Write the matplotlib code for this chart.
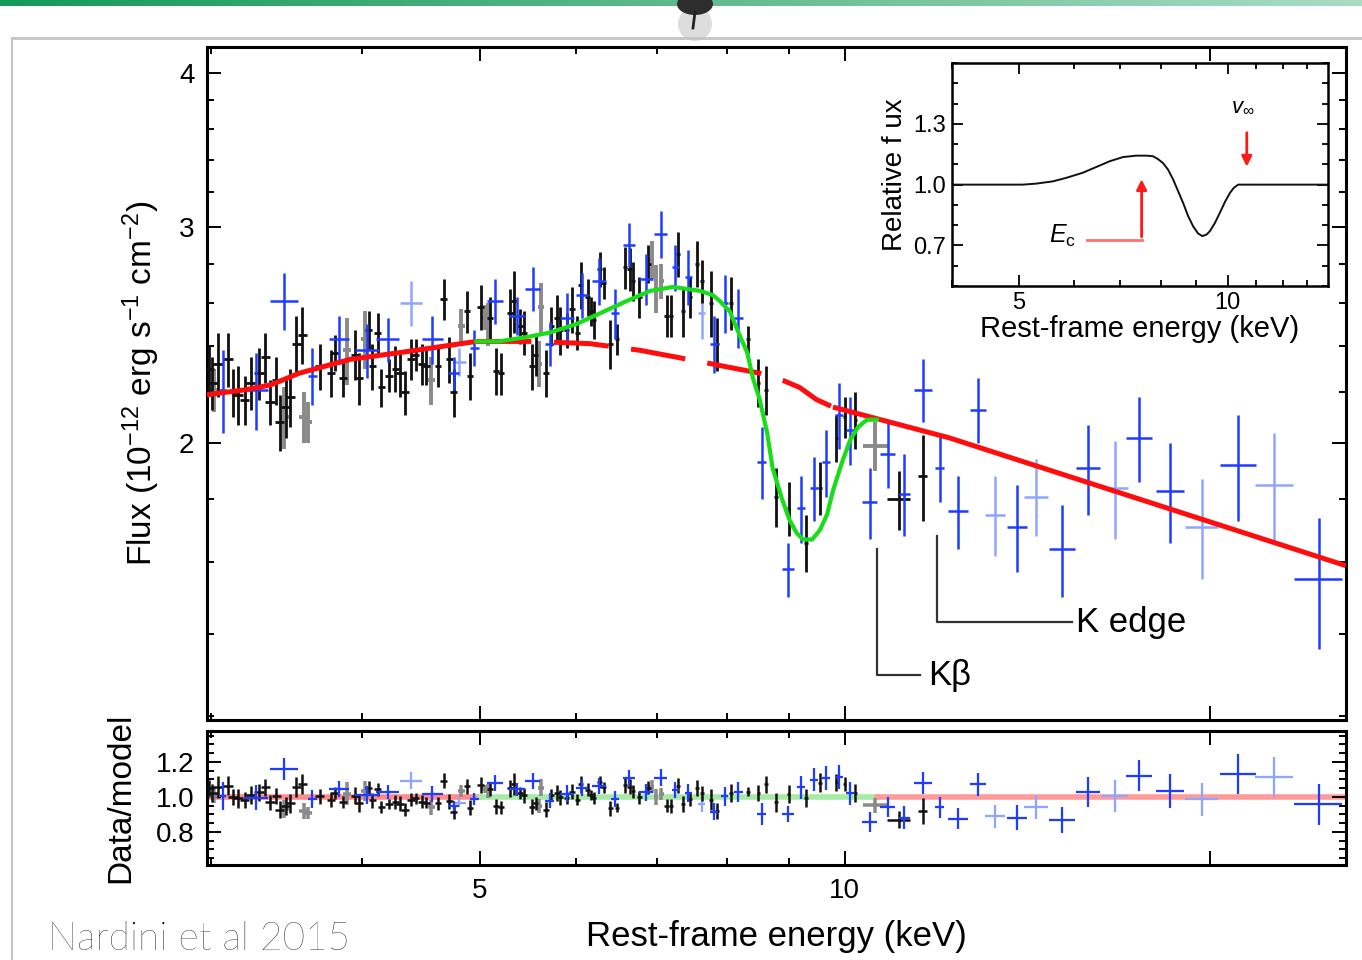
import numpy as np
import matplotlib.pyplot as plt
from matplotlib.colors import LinearSegmentedColormap
from matplotlib.lines import Line2D
from matplotlib.patches import Ellipse

plt.rcParams['font.family'] = ['Liberation Sans', 'DejaVu Sans']
plt.rcParams['mathtext.fontset'] = 'custom'
plt.rcParams['mathtext.rm'] = 'Liberation Sans'
plt.rcParams['mathtext.it'] = 'Liberation Sans:italic'
plt.rcParams['mathtext.bf'] = 'Liberation Sans:bold'

# XMM pn spectrum (keV, 1e-12 erg/s/cm2, 1-sigma)
pn_e = [2.99, 3.01, 3.04, 3.10, 3.13, 3.16, 3.20, 3.24, 3.29, 3.33, 3.36, 3.40, 3.42,
        3.46, 3.49, 3.53, 3.57, 3.69, 3.77, 3.80, 3.86, 3.95, 3.98, 4.05, 4.08, 4.12,
        4.15, 4.21, 4.26, 4.30, 4.34, 4.39, 4.43, 4.48, 4.52, 4.62, 4.67, 4.72, 4.76,
        4.88, 4.91, 5.01, 5.10, 5.16, 5.21, 5.30, 5.34, 5.40, 5.44, 5.52, 5.56, 5.67,
        5.73, 5.79, 5.83, 5.90, 5.96, 6.02, 6.06, 6.14, 6.18, 6.21, 6.28, 6.33, 6.41,
        6.49, 6.59, 6.65, 6.69, 6.77, 6.89, 7.13, 7.19, 7.29, 7.36, 7.46, 7.55, 7.63,
        7.76, 7.84, 8.06, 8.32, 8.49, 8.61, 8.78, 8.99, 9.29, 9.54, 9.84, 10.0, 10.2,
        11.08, 11.6]
pn_f = [2.30, 2.24, 2.32, 2.34, 2.20, 2.19, 2.17, 2.24, 2.28, 2.35, 2.16, 2.25, 2.08,
        2.14, 2.18, 2.41, 2.45, 2.31, 2.28, 2.37, 2.26, 2.36, 2.26, 2.47, 2.31, 2.46,
        2.22, 2.27, 2.30, 2.28, 2.20, 2.34, 2.36, 2.32, 2.31, 2.31, 2.62, 2.34, 2.20,
        2.56, 2.27, 2.58, 2.53, 2.29, 2.28, 2.55, 2.61, 2.49, 2.46, 2.31, 2.36, 2.28,
        2.49, 2.53, 2.47, 2.47, 2.57, 2.46, 2.69, 2.63, 2.56, 2.52, 2.77, 2.70, 2.41,
        2.43, 2.78, 2.77, 2.71, 2.63, 2.80, 2.54, 2.54, 2.85, 2.56, 2.63, 2.80, 2.71,
        2.60, 2.41, 2.60, 2.43, 2.24, 2.21, 1.81, 1.77, 1.66, 1.84, 2.02, 2.10, 2.09,
        1.80, 1.88]
pn_err = [0.10, 0.11, 0.14, 0.12, 0.10, 0.12, 0.10, 0.11, 0.11, 0.11, 0.09, 0.10, 0.11,
          0.12, 0.12, 0.13, 0.13, 0.10, 0.10, 0.08, 0.08, 0.11, 0.11, 0.09, 0.10, 0.09,
          0.08, 0.07, 0.10, 0.10, 0.09, 0.09, 0.07, 0.09, 0.08, 0.09, 0.10, 0.10, 0.10,
          0.10, 0.10, 0.11, 0.10, 0.10, 0.09, 0.12, 0.15, 0.08, 0.10, 0.10, 0.09, 0.10,
          0.09, 0.11, 0.11, 0.08, 0.11, 0.08, 0.12, 0.09, 0.07, 0.09, 0.09, 0.08, 0.11,
          0.07, 0.11, 0.11, 0.10, 0.10, 0.10, 0.10, 0.10, 0.12, 0.12, 0.10, 0.12, 0.11,
          0.16, 0.12, 0.13, 0.06, 0.10, 0.10, 0.10, 0.09, 0.09, 0.09, 0.09, 0.08, 0.11,
          0.10, 0.15]

# XMM MOS spectrum
mos_e = [3.02, 3.45, 3.58, 3.61, 3.89, 4.02, 4.56, 4.83, 5.05, 5.08, 5.60, 5.62,
         6.93, 6.99, 7.06, 10.6]
mos_f = [2.21, 2.10, 2.10, 2.08, 2.38, 2.43, 2.25, 2.49, 2.53, 2.50, 2.32, 2.58,
         2.82, 2.67, 2.71, 1.99]
mos_err = [0.09, 0.12, 0.10, 0.08, 0.15, 0.13, 0.10, 0.08, 0.06, 0.10, 0.10, 0.12,
           0.10, 0.12, 0.09, 0.09]

# NuSTAR FPMA spectrum (with energy half-widths)
fpma_e = [3.07, 3.27, 3.45, 3.64, 3.83, 4.04, 4.20, 4.57, 4.76, 4.95, 5.15, 5.37,
          5.53, 5.71, 5.90, 6.07, 6.27, 6.47, 6.64, 6.86, 7.05, 7.25, 7.43, 7.80,
          7.96, 8.17, 8.54, 8.98, 9.20, 9.43, 9.65, 9.89, 10.1, 10.49, 10.85, 11.2,
          11.6, 11.98, 12.4, 12.88, 13.87, 15.1, 15.87, 17.5, 18.55, 21.1, 24.6]
fpma_de = [0.02, 0.075, 0.09, 0.03, 0.07, 0.09, 0.09, 0.09, 0.05, 0.04, 0.08, 0.08,
           0.08, 0.05, 0.08, 0.07, 0.08, 0.05, 0.08, 0.09, 0.09, 0.05, 0.05, 0.06,
           0.06, 0.07, 0.07, 0.10, 0.07, 0.07, 0.08, 0.08, 0.08, 0.15, 0.15, 0.12,
           0.20, 0.10, 0.24, 0.20, 0.27, 0.37, 0.36, 0.43, 0.49, 0.72, 1.12]
fpma_f = [2.21, 2.21, 2.61, 2.27, 2.43, 2.38, 2.43, 2.43, 2.28, 2.39, 2.61, 2.54,
          2.67, 2.41, 2.53, 2.64, 2.71, 2.55, 2.90, 2.72, 2.96, 2.78, 2.73, 2.41,
          2.60, 2.53, 1.93, 1.58, 1.77, 1.84, 1.93, 2.11, 2.05, 1.79, 1.96, 1.82,
          2.21, 1.91, 1.76, 2.13, 1.71, 1.64, 1.91, 2.02, 1.83, 1.92, 1.55]
fpma_err = [0.17, 0.16, 0.14, 0.12, 0.11, 0.12, 0.10, 0.11, 0.07, 0.08, 0.11, 0.09,
            0.11, 0.10, 0.12, 0.11, 0.12, 0.12, 0.12, 0.13, 0.13, 0.12, 0.14, 0.13,
            0.14, 0.14, 0.13, 0.08, 0.11, 0.11, 0.12, 0.13, 0.13, 0.12, 0.12, 0.14,
            0.13, 0.12, 0.12, 0.13, 0.14, 0.14, 0.16, 0.16, 0.17, 0.19, 0.19]

# NuSTAR FPMB spectrum
fpmb_e = [4.39, 4.81, 7.62, 13.3, 14.38, 16.7, 19.7, 22.6]
fpmb_de = [0.09, 0.06, 0.05, 0.26, 0.33, 0.41, 0.63, 0.82]
fpmb_f = [2.60, 2.33, 2.55, 1.75, 1.81, 1.84, 1.71, 1.85]
fpmb_err = [0.11, 0.06, 0.12, 0.13, 0.13, 0.17, 0.16, 0.19]

# continuum model and continuum + P Cygni model
cont_e = [2.98, 3.20, 3.36, 3.55, 3.91, 4.30, 4.97, 5.50, 6.16, 6.78, 7.60, 8.51,
          8.89, 9.18, 9.48, 9.78, 12.2, 25.9]
cont_f = [2.19, 2.21, 2.23, 2.28, 2.34, 2.37, 2.42, 2.42, 2.41, 2.38, 2.33, 2.28,
          2.25, 2.22, 2.17, 2.14, 2.02, 1.59]
pcyg_e = [4.97, 5.19, 5.47, 5.71, 6.01, 6.28, 6.61, 6.91, 7.22, 7.60, 7.78, 7.89,
          8.04, 8.16, 8.31, 8.40, 8.51, 8.63, 8.72, 8.88, 9.01, 9.13, 9.24, 9.40,
          9.54, 9.67, 9.78, 9.95, 10.1, 10.25, 10.43, 10.63]
pcyg_f = [2.42, 2.42, 2.44, 2.46, 2.50, 2.55, 2.61, 2.66, 2.68, 2.66, 2.64, 2.61,
          2.56, 2.47, 2.37, 2.26, 2.17, 2.04, 1.91, 1.80, 1.73, 1.69, 1.67, 1.67,
          1.70, 1.75, 1.83, 1.93, 2.01, 2.06, 2.09, 2.09]

# relative P Cygni profile for the inset
prof_e = [4.0, 5.06, 5.29, 5.59, 5.84, 6.17, 6.46, 6.75, 7.06, 7.38, 7.63, 7.80,
          7.93, 8.06, 8.20, 8.34, 8.48, 8.62, 8.76, 8.91, 9.06, 9.19, 9.32, 9.42,
          9.58, 9.74, 9.90, 10.07, 10.20, 10.35, 14.0]
prof_r = [1.0, 1.0, 1.005, 1.016, 1.033, 1.058, 1.087, 1.115, 1.136, 1.143, 1.143,
          1.140, 1.126, 1.107, 1.074, 1.025, 0.967, 0.910, 0.847, 0.795, 0.759,
          0.746, 0.754, 0.770, 0.811, 0.861, 0.913, 0.959, 0.984, 1.0, 1.0]

BLACK = '#111111'
GREY = '#8a8a8a'
BLUE = '#1f3cff'
LBLUE = '#8ea6ff'
RED = '#ff0d0d'
GREEN = '#19dd19'

cont_e = np.array(cont_e)
cont_f = np.array(cont_f)
model_e = np.concatenate([cont_e[cont_e < 4.97], pcyg_e, cont_e[cont_e > 10.63]])
model_f = np.concatenate([cont_f[cont_e < 4.97], pcyg_f, cont_f[cont_e > 10.63]])


def model_at(e):
    return 10 ** np.interp(np.log10(e), np.log10(model_e), np.log10(model_f))


fig = plt.figure(figsize=(13.62, 9.6), dpi=100)
W, H = 1362.0, 960.0


def box(x0, y0, x1, y1):
    return [x0 / W, 1 - y1 / H, (x1 - x0) / W, (y1 - y0) / H]


ax = fig.add_axes(box(207, 47, 1346, 720))
axr = fig.add_axes(box(207, 731, 1346, 865))
axi = fig.add_axes(box(952, 63, 1328, 286))

sets = [
    (pn_e, pn_f, pn_err, np.full(len(pn_e), 0.03), BLACK, 2.0, 3),
    (mos_e, mos_f, mos_err, np.full(len(mos_e), 0.03), GREY, 2.8, 2),
    (fpma_e, fpma_f, fpma_err, fpma_de, BLUE, 1.8, 4),
    (fpmb_e, fpmb_f, fpmb_err, fpmb_de, LBLUE, 1.8, 2.5),
]
sets[0][3][-2:] = [0.25, 0.10]
sets[1][3][-1] = 0.25

for e, f, err, de, col, lw, z in sets:
    e = np.array(e)
    f = np.array(f)
    err = np.array(err)
    ax.errorbar(e, f, yerr=err, xerr=de, fmt='none', ecolor=col,
                elinewidth=lw, capsize=0, zorder=z)
    m = model_at(e)
    axr.errorbar(e, f / m, yerr=err / m, xerr=de, fmt='none', ecolor=col,
                 elinewidth=lw * 0.9, capsize=0, zorder=z)

# models: continuum solid outside the line region, dashed beneath it
lo = cont_e <= 4.97
hi = cont_e >= 9.78
mid = (cont_e >= 4.97) & (cont_e <= 9.78)
ax.plot(cont_e[lo], cont_f[lo], color=RED, lw=3.6, zorder=6, solid_capstyle='butt')
ax.plot(cont_e[hi], cont_f[hi], color=RED, lw=3.6, zorder=6, solid_capstyle='butt')
dash, = ax.plot(cont_e[mid], cont_f[mid], color=RED, lw=3.6, zorder=6,
                dash_capstyle='butt')
dash.set_dashes([11, 4.5])
ax.plot(pcyg_e, pcyg_f, color=GREEN, lw=3.0, zorder=7)

axr.plot([2.98, 5.0], [1, 1], color='#ff8c8c', lw=4, zorder=1)
axr.plot([5.0, 10.63], [1, 1], color='#a6eaa6', lw=4, zorder=1)
axr.plot([10.63, 25.9], [1, 1], color='#ff9a9a', lw=4, zorder=1)

# line annotations
ann = dict(color='#333333', lw=1.6, zorder=8)
ax.plot([10.63, 10.63, 11.53], [1.64, 1.295, 1.295], **ann)
ax.plot([11.91, 11.91, 15.39], [1.68, 1.43, 1.43], **ann)
ax.text(11.71, 1.295, 'Kβ', fontsize=25, va='center', ha='left')
ax.text(15.51, 1.43, 'K edge', fontsize=25, va='center', ha='left')

# axes styling
for a in (ax, axr):
    a.set_xscale('log')
    a.set_xlim(2.98, 25.9)
    a.set_xticks([5, 10, 20])
    a.set_xticks([3, 4, 6, 7, 8, 9], minor=True)
    a.set_xticklabels(['5', '10', ''])
    a.xaxis.set_minor_formatter(plt.NullFormatter())
    a.tick_params(which='both', direction='in', top=True, right=True, width=1.4,
                  labelsize=20, pad=9)
    a.tick_params(which='major', length=10)
    a.tick_params(which='minor', length=5)
    for s in a.spines.values():
        s.set_linewidth(2.2)

ax.set_yscale('log')
ax.set_ylim(1.191, 4.20)
ax.set_yticks([2, 3, 4])
ax.set_yticklabels(['2', '3', '4'])
ax.set_yticks([1.2, 1.4, 1.6, 1.8, 2.2, 2.4, 2.6, 2.8, 3.2, 3.4, 3.6, 3.8, 4.2],
              minor=True)
ax.yaxis.set_minor_formatter(plt.NullFormatter())
ax.tick_params(labelbottom=False)
ax.set_ylabel('Flux (10$^{-12}$ erg s$^{-1}$ cm$^{-2}$)', fontsize=24, labelpad=12)

axr.set_ylim(0.611, 1.377)
axr.set_yticks([0.8, 1.0, 1.2])
axr.set_yticklabels(['0.8', '1.0', '1.2'])
axr.set_yticks(np.arange(0.65, 1.37, 0.05), minor=True)
axr.yaxis.set_minor_formatter(plt.NullFormatter())
axr.set_ylabel('Data/model', fontsize=24, labelpad=14)
axr.set_xlabel('Rest-frame energy (keV)', fontsize=25, labelpad=12)

# inset: relative P Cygni profile
axi.plot(prof_e, prof_r, color='#111111', lw=1.4)
axi.set_xscale('log')
axi.set_xlim(4.0, 13.95)
axi.set_ylim(0.5, 1.6)
axi.set_xticks([5, 10])
axi.set_xticklabels(['5', '10'])
axi.set_xticks([4, 6, 7, 8, 9, 11, 12, 13], minor=True)
axi.xaxis.set_minor_formatter(plt.NullFormatter())
axi.set_yticks([0.7, 1.0, 1.3])
axi.set_yticklabels(['0.7', '1.0', '1.3'])
axi.set_yticks(np.arange(0.5, 1.61, 0.1), minor=True)
axi.yaxis.set_minor_formatter(plt.NullFormatter())
axi.tick_params(which='both', direction='in', top=True, right=True, width=1.3,
                labelsize=17, pad=4)
axi.tick_params(which='major', length=8)
axi.tick_params(which='minor', length=4)
for s in axi.spines.values():
    s.set_linewidth(1.8)
axi.set_xlabel('Rest-frame energy (keV)', fontsize=21, labelpad=1)
axi.set_ylabel('Relative f ux', fontsize=20, labelpad=4)

axi.plot([6.27, 7.51], [0.729, 0.729], color='#ff7070', lw=2)
axi.annotate('', xy=(7.51, 1.04), xytext=(7.51, 0.729),
             arrowprops=dict(arrowstyle='-|>,head_length=0.6,head_width=0.3',
                             color='#ff1a1a', lw=2))
axi.annotate('', xy=(10.65, 1.075), xytext=(10.65, 1.27),
             arrowprops=dict(arrowstyle='-|>,head_length=0.6,head_width=0.3',
                             color='#ff1a1a', lw=2))
axi.text(5.77, 0.745, '$E_\\mathrm{c}$', fontsize=18, ha='center', va='center')
axi.text(10.5, 1.39, '$v_\\infty$', fontsize=16, ha='center', va='center')

# slide decorations
bar = fig.add_axes([0, 1 - 6 / H, 1, 6 / H])
grad = LinearSegmentedColormap.from_list('bar', ['#139a58', '#5fb98c', '#a9ddc3'])
bar.imshow(np.linspace(0, 1, 256)[None, :], aspect='auto', cmap=grad)
bar.axis('off')

fig.add_artist(Line2D([12 / W, 1], [1 - 38 / H] * 2, color='#c4c4c4', lw=2))
fig.add_artist(Line2D([12 / W] * 2, [0, 1 - 38 / H], color='#c4c4c4', lw=1.5))
fig.add_artist(Ellipse((695 / W, 1 - 24 / H), 34 / W, 34 / H, color='#bdbdbd',
                       alpha=0.5, lw=0))
fig.add_artist(Ellipse((695 / W, 1 - 4 / H), 36 / W, 22 / H, color='#2d2d2d', lw=0))
fig.add_artist(Line2D([695 / W, 693 / W], [1 - 12 / H, 1 - 28 / H], color='#222222',
                      lw=2))

fig.text(48 / W, 3 / H, 'Nardini et al 2015', fontsize=28, family='Lato',
         fontweight='light', color='black', ha='left', va='bottom')

fig.savefig('out.png', dpi=100)
